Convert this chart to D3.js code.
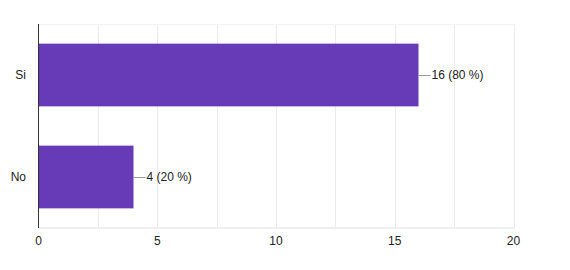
<!DOCTYPE html>
<html lang="en">
<head>
    <meta charset="UTF-8">
    <script src="https://d3js.org/d3.v7.min.js"></script>
    <style>
        body { margin: 0; background: white; }
        text { font-family: "Liberation Sans", Arial, sans-serif; font-size: 12px; fill: #222; }
    </style>
</head>
<body>
<div id="chart"></div>
<script>
    var categories = ["Si", "No"];
    var counts = [16, 4];
    var percents = [80, 20];
    var xTicks = [0, 5, 10, 15, 20];
    var gridTicks = [2.5, 5, 7.5, 10, 12.5, 15, 17.5, 20];

    var canvasWidth = 570, canvasHeight = 270;
    var plotLeft = 38.5, plotRight = 513.5, plotTop = 24, plotBottom = 228;

    var svg = d3.select("#chart").append("svg")
        .attr("width", canvasWidth)
        .attr("height", canvasHeight);

    var xScale = d3.scaleLinear().domain([0, 20]).range([plotLeft, plotRight]);
    var yScale = d3.scaleBand().domain(categories).range([plotTop, plotBottom]).paddingInner(0.385).paddingOuter(0.1925);

    // grid
    svg.selectAll(".grid").data(gridTicks).enter().append("line")
        .attr("x1", d => Math.round(xScale(d)) + 0.5)
        .attr("x2", d => Math.round(xScale(d)) + 0.5)
        .attr("y1", plotTop).attr("y2", plotBottom)
        .attr("stroke", "#ebebeb").attr("stroke-width", 1);
    svg.append("line")
        .attr("x1", plotLeft).attr("x2", plotRight)
        .attr("y1", plotTop + 0.5).attr("y2", plotTop + 0.5)
        .attr("stroke", "#f2f2f2");
    svg.append("line")
        .attr("x1", plotLeft).attr("x2", plotRight + 1)
        .attr("y1", plotBottom).attr("y2", plotBottom)
        .attr("stroke", "#eeeeee").attr("stroke-width", 2);

    // bars
    var data = categories.map((c, i) => ({cat: c, n: counts[i], p: percents[i]}));
    svg.selectAll(".bar").data(data).enter().append("rect")
        .attr("x", xScale(0))
        .attr("y", d => yScale(d.cat))
        .attr("width", d => xScale(d.n) - xScale(0))
        .attr("height", yScale.bandwidth())
        .attr("fill", "#673ab7");

    // leader lines + labels
    svg.selectAll(".lead").data(data).enter().append("line")
        .attr("x1", d => xScale(d.n)).attr("x2", d => xScale(d.n) + 12)
        .attr("y1", d => Math.round(yScale(d.cat) + yScale.bandwidth() / 2) + 0.5)
        .attr("y2", d => Math.round(yScale(d.cat) + yScale.bandwidth() / 2) + 0.5)
        .attr("stroke", "#999");
    svg.selectAll(".lbl").data(data).enter().append("text")
        .attr("x", d => xScale(d.n) + 13)
        .attr("y", d => yScale(d.cat) + yScale.bandwidth() / 2)
        .attr("dy", "0.35em")
        .text(d => d.n + " (" + d.p + " %)");

    // y axis line
    svg.append("line")
        .attr("x1", plotLeft).attr("x2", plotLeft)
        .attr("y1", plotTop).attr("y2", plotBottom)
        .attr("stroke", "#333").attr("stroke-width", 1);

    // y labels
    svg.selectAll(".ylab").data(categories).enter().append("text")
        .attr("x", 26)
        .attr("y", d => yScale(d) + yScale.bandwidth() / 2)
        .attr("dy", "0.35em")
        .attr("text-anchor", "end")
        .text(d => d);

    // x tick labels
    svg.selectAll(".xlab").data(xTicks).enter().append("text")
        .attr("x", d => xScale(d))
        .attr("y", 241)
        .attr("dy", "0.35em")
        .attr("text-anchor", "middle")
        .text(d => d);
</script>
</body>
</html>
